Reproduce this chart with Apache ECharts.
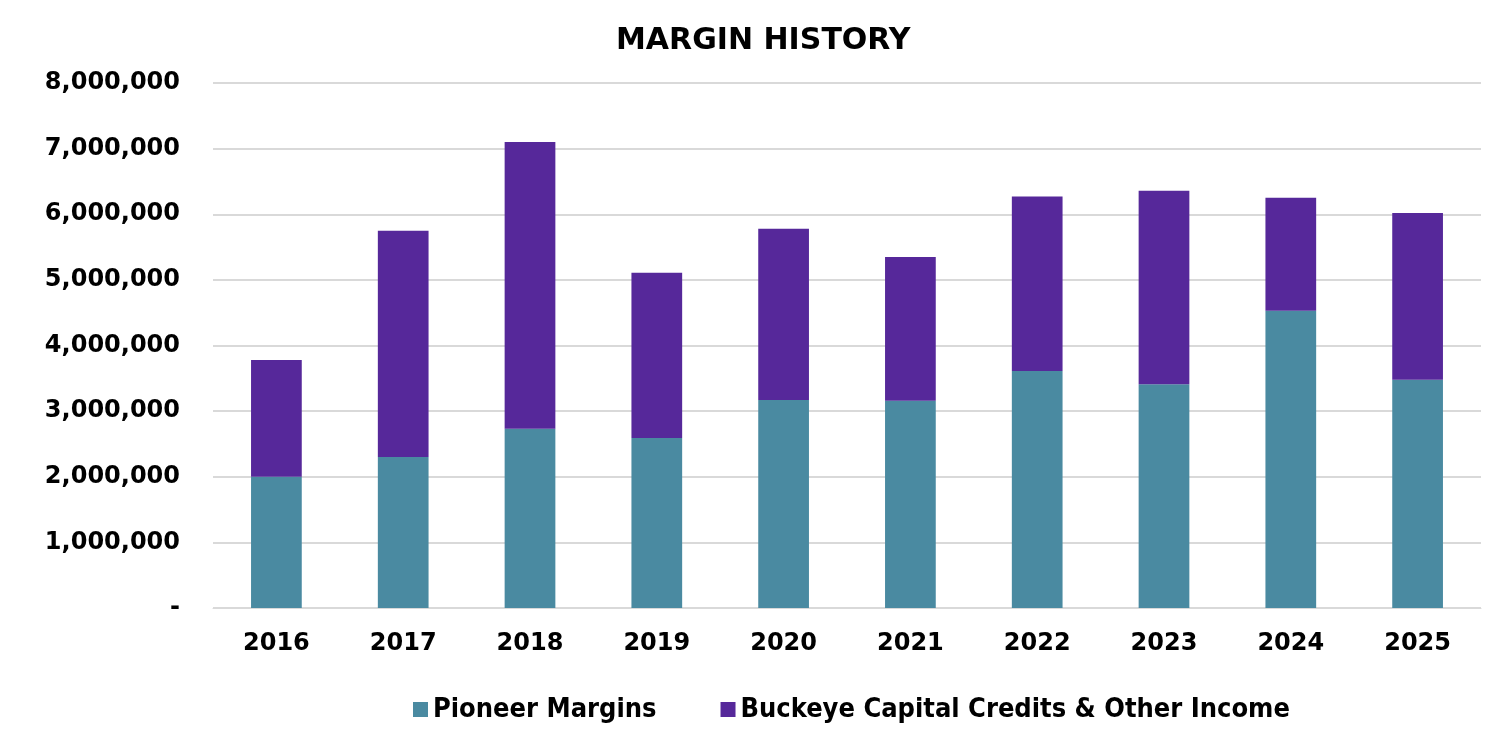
<!DOCTYPE html>
<html><head><meta charset="utf-8">
<script src="https://cdn.jsdelivr.net/npm/echarts@6/dist/echarts.min.js"></script>
<style>html,body{margin:0;padding:0;background:#fff}#c{width:1507px;height:755px}</style>
</head><body><div id="c"></div>
<script>
const categories = ['2016','2017','2018','2019','2020','2021','2022','2023','2024','2025'];
const pioneerMargins = [2000000, 2300000, 2730000, 2590000, 3170000, 3160000, 3610000, 3410000, 4530000, 3480000];
const buckeyeCredits = [1780000, 3450000, 4370000, 2520000, 2610000, 2190000, 2660000, 2950000, 1720000, 2540000];
const seriesNames = ['Pioneer Margins', 'Buckeye Capital Credits & Other Income'];

const chart = echarts.init(document.getElementById('c'));
const font = 'Verdana, "DejaVu Sans", sans-serif';
chart.setOption({
  animation: false,
  title: { text: 'MARGIN HISTORY', left: 611, top: 21, textStyle: { fontFamily: font, fontWeight: 'bold', fontSize: 30, color: '#000' } },
  legend: { bottom: 27, left: 408, itemGap: 64, itemWidth: 15, itemHeight: 15, icon: 'rect',
    textStyle: { fontFamily: '"DejaVu Sans Condensed", "Liberation Sans Narrow", sans-serif', fontWeight: 'bold', fontSize: 27, color: '#000' },
    data: seriesNames },
  grid: { left: 213, right: 26, top: 83, bottom: 147, containLabel: false },
  xAxis: { type: 'category', data: categories,
    axisLine: { lineStyle: { color: '#d9d9d9' } }, axisTick: { show: false },
    axisLabel: { margin: 24, fontFamily: font, fontWeight: 'bold', fontSize: 24, color: '#000' } },
  yAxis: { type: 'value', min: 0, max: 8000000, interval: 1000000,
    axisLine: { show: false }, axisTick: { show: false },
    splitLine: { lineStyle: { color: '#d9d9d9', width: 2 } },
    axisLabel: { margin: 33, fontFamily: font, fontWeight: 'bold', fontSize: 24, color: '#000',
      formatter: v => v === 0 ? '-' : v.toLocaleString('en-US') } },
  series: [
    { name: seriesNames[0], type: 'bar', stack: 't', data: pioneerMargins, barWidth: '40%', itemStyle: { color: '#4A8AA1' } },
    { name: seriesNames[1], type: 'bar', stack: 't', data: buckeyeCredits, barWidth: '40%', itemStyle: { color: '#56289A' } }
  ]
});
</script></body></html>
